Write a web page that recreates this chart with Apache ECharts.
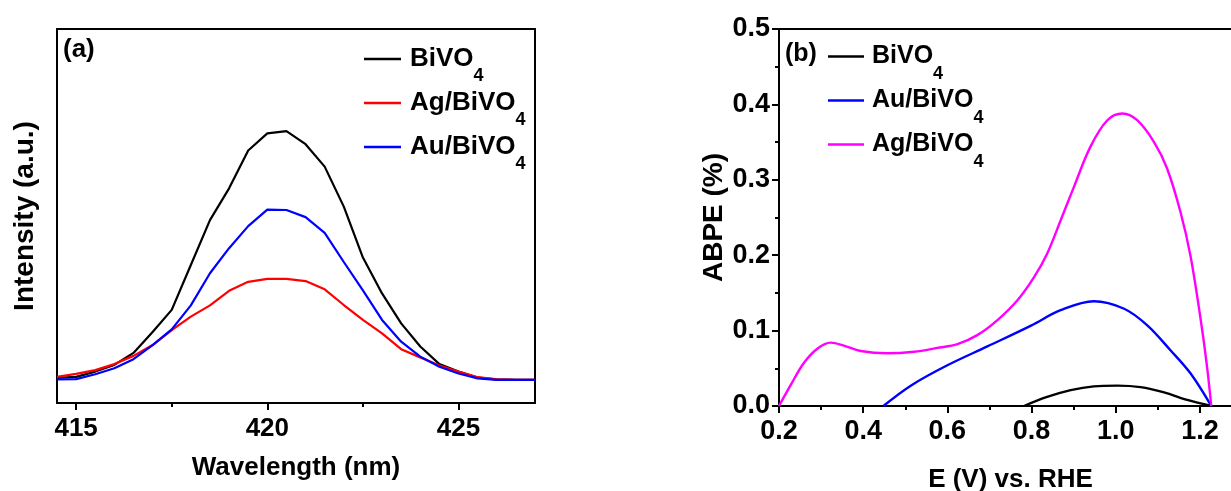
<!DOCTYPE html>
<html>
<head>
<meta charset="utf-8">
<script src="https://cdn.jsdelivr.net/npm/echarts@6/dist/echarts.min.js"></script>
<style>
html,body{margin:0;padding:0;background:#fff;}
#c{width:1231px;height:491px;}
</style>
</head>
<body>
<div id="c"></div>
<script>
// ---- Panel (a): PL spectra ----
const wavelength = [414.5,415,415.5,416,416.5,417,417.5,418,418.5,419,419.5,420,420.5,421,421.5,422,422.5,423,423.5,424,424.5,425,425.5,426,426.5,427];
const pl_bivo = [67,70,84,102,134,190,249,369,489,574,675,721,727,692,632,525,389,293,213,151,104,84,68,63,62,62];
const pl_ag   = [70,78,88,104,126,155,195,231,261,300,324,332,332,326,304,262,222,186,144,122,100,84,69,63,62,62];
const pl_au   = [63,64,77,93,117,155,197,261,347,414,473,517,516,497,455,377,301,222,164,124,97,79,66,62,62,62];
const wl_major = [415,420,425];
const wl_minor = [417.5,422.5];

// ---- Panel (b): ABPE ----
const e_ag    = [0.2,0.228,0.259,0.291,0.323,0.354,0.394,0.457,0.521,0.576,0.624,0.671,0.719,0.766,0.806,0.837,0.869,0.901,0.940,0.980,1.016,1.051,1.091,1.122,1.154,1.178,1.202,1.217,1.227];
const abpe_ag = [0,0.028,0.057,0.076,0.084,0.080,0.073,0.070,0.072,0.077,0.082,0.094,0.114,0.140,0.171,0.202,0.246,0.291,0.344,0.379,0.388,0.379,0.350,0.315,0.257,0.198,0.114,0.052,0];
const e_au    = [0.448,0.513,0.600,0.695,0.800,0.869,0.948,1.020,1.075,1.130,1.178,1.227];
const abpe_au = [0,0.027,0.054,0.079,0.107,0.127,0.139,0.129,0.107,0.074,0.043,0];
const e_bi    = [0.782,0.837,0.893,0.948,1.004,1.059,1.115,1.170,1.227];
const abpe_bi = [0,0.012,0.021,0.026,0.027,0.025,0.018,0.008,0];

const FONT = 'Liberation Sans';
const pair = (xs, ys) => xs.map((x, i) => [x, ys[i]]);

function legendRich(fs, sub){
  return {
    m: {fontSize: fs, fontWeight: 'bold', fontFamily: FONT, color: '#000', lineHeight: fs, padding: [14, 0, 14, 0], verticalAlign: 'middle'},
    s: {fontSize: sub, fontWeight: 'bold', fontFamily: FONT, color: '#000', lineHeight: sub, padding: [35, 0, 0, 0], verticalAlign: 'middle'}
  };
}
const legendFmt = name => '{m|' + name.slice(0, -1) + '}{s|' + name.slice(-1) + '}';

const axisLineStyle = {show: true, lineStyle: {color: '#000', width: 2}};
const labelStyle = {color: '#000', fontFamily: FONT, fontWeight: 'bold', fontSize: 26};
const nameStyle = {color: '#000', fontFamily: FONT, fontWeight: 'bold', fontSize: 26};

const option = {
  animation: false,
  backgroundColor: '#fff',
  grid: [
    {left: 57, width: 478, top: 29, height: 374, outerBoundsMode: 'none', containLabel: false},
    {left: 779, width: 463, top: 29, height: 377, outerBoundsMode: 'none', containLabel: false}
  ],
  xAxis: [
    { // (a) bottom
      gridIndex: 0, type: 'value', min: 414.5, max: 427,
      axisLine: axisLineStyle,
      axisTick: {show: true, inside: false, length: 7, lineStyle: {color: '#000', width: 2}, customValues: wl_major},
      axisLabel: Object.assign({margin: 13, customValues: wl_major}, labelStyle),
      splitLine: {show: false},
      name: 'Wavelength (nm)', nameLocation: 'middle', nameGap: 52, nameTextStyle: nameStyle
    },
    { // (a) minor ticks
      gridIndex: 0, type: 'value', min: 414.5, max: 427, position: 'bottom',
      axisLine: {show: false},
      axisTick: {show: true, inside: false, length: 4, lineStyle: {color: '#000', width: 2}, customValues: wl_minor},
      axisLabel: {show: false}, splitLine: {show: false}
    },
    { // (a) top frame
      gridIndex: 0, type: 'value', min: 414.5, max: 427, position: 'top',
      axisLine: axisLineStyle, axisTick: {show: false}, axisLabel: {show: false}, splitLine: {show: false}
    },
    { // (b) bottom
      gridIndex: 1, type: 'value', min: 0.2, max: 1.3, interval: 0.2,
      axisLine: axisLineStyle,
      axisTick: {show: true, inside: false, length: 7, lineStyle: {color: '#000', width: 2}},
      minorTick: {show: true, splitNumber: 2, length: 4, lineStyle: {color: '#000', width: 2}},
      axisLabel: Object.assign({margin: 12, formatter: v => v.toFixed(1), showMaxLabel: false}, labelStyle, {fontSize: 27}),
      splitLine: {show: false},
      name: 'E (V) vs. RHE', nameLocation: 'middle', nameGap: 61, nameTextStyle: nameStyle
    },
    { // (b) top frame
      gridIndex: 1, type: 'value', min: 0.2, max: 1.3, position: 'top',
      axisLine: axisLineStyle, axisTick: {show: false}, axisLabel: {show: false}, splitLine: {show: false}
    }
  ],
  yAxis: [
    { // (a) left
      gridIndex: 0, type: 'value', min: 0, max: 1000,
      axisLine: axisLineStyle, axisTick: {show: false}, axisLabel: {show: false}, splitLine: {show: false},
      name: 'Intensity (a.u.)', nameLocation: 'middle', nameGap: 18,
      nameTextStyle: Object.assign({}, nameStyle, {fontSize: 28})
    },
    { // (a) right frame
      gridIndex: 0, type: 'value', min: 0, max: 1000, position: 'right',
      axisLine: axisLineStyle, axisTick: {show: false}, axisLabel: {show: false}, splitLine: {show: false}
    },
    { // (b) left
      gridIndex: 1, type: 'value', min: 0, max: 0.5, interval: 0.1,
      axisLine: axisLineStyle,
      axisTick: {show: true, inside: false, length: 7, lineStyle: {color: '#000', width: 2}},
      minorTick: {show: true, splitNumber: 2, length: 4, lineStyle: {color: '#000', width: 2}},
      axisLabel: Object.assign({margin: 9, formatter: v => v.toFixed(1)}, labelStyle, {fontSize: 27}),
      splitLine: {show: false},
      name: 'ABPE (%)', nameLocation: 'middle', nameGap: 49,
      nameTextStyle: Object.assign({}, nameStyle, {fontSize: 28})
    }
  ],
  legend: [
    {
      left: 364, top: 32, padding: 0, orient: 'vertical', itemWidth: 37, itemHeight: 12, itemGap: -10,
      data: ['BiVO4', 'Ag/BiVO4', 'Au/BiVO4'],
      formatter: legendFmt,
      textStyle: {rich: legendRich(26, 18), padding: [0, 0, 0, 4]},
      icon: 'path://M0,5L37,5L37,7.4L0,7.4Z'
    },
    {
      left: 828, top: 30, padding: 0, orient: 'vertical', itemWidth: 36, itemHeight: 12, itemGap: -9,
      data: ['BiVO4 ', 'Au/BiVO4 ', 'Ag/BiVO4 '],
      formatter: name => legendFmt(name.trim()),
      textStyle: {rich: legendRich(25, 18), padding: [0, 0, 0, 3]},
      icon: 'path://M0,5L36,5L36,7.4L0,7.4Z'
    }
  ],
  graphic: [
    {type: 'text', x: 63, y: 50, style: {text: '(a)', fontFamily: FONT, fontWeight: 'bold', fontSize: 26, fill: '#000', verticalAlign: 'middle'}},
    {type: 'text', x: 785, y: 54, style: {text: '(b)', fontFamily: FONT, fontWeight: 'bold', fontSize: 25, fill: '#000', verticalAlign: 'middle'}}
  ],
  series: [
    {name: 'BiVO4', type: 'line', xAxisIndex: 0, yAxisIndex: 0, data: pair(wavelength, pl_bivo), symbol: 'none', lineStyle: {color: '#000000', width: 2.2}, itemStyle: {color: '#000000'}, z: 3},
    {name: 'Ag/BiVO4', type: 'line', xAxisIndex: 0, yAxisIndex: 0, data: pair(wavelength, pl_ag), symbol: 'none', lineStyle: {color: '#ff0000', width: 2.2}, itemStyle: {color: '#ff0000'}, z: 4},
    {name: 'Au/BiVO4', type: 'line', xAxisIndex: 0, yAxisIndex: 0, data: pair(wavelength, pl_au), symbol: 'none', lineStyle: {color: '#0000ff', width: 2.2}, itemStyle: {color: '#0000ff'}, z: 5},
    {name: 'BiVO4 ', type: 'line', xAxisIndex: 3, yAxisIndex: 2, data: pair(e_bi, abpe_bi), symbol: 'none', smooth: 0.35, lineStyle: {color: '#000000', width: 2.4}, itemStyle: {color: '#000000'}},
    {name: 'Au/BiVO4 ', type: 'line', xAxisIndex: 3, yAxisIndex: 2, data: pair(e_au, abpe_au), symbol: 'none', smooth: 0.35, lineStyle: {color: '#0000ff', width: 2.4}, itemStyle: {color: '#0000ff'}},
    {name: 'Ag/BiVO4 ', type: 'line', xAxisIndex: 3, yAxisIndex: 2, data: pair(e_ag, abpe_ag), symbol: 'none', smooth: 0.35, lineStyle: {color: '#ff00ff', width: 2.4}, itemStyle: {color: '#ff00ff'}}
  ]
};

const chart = echarts.init(document.getElementById('c'), null, {renderer: 'canvas'});
chart.setOption(option);
</script>
</body>
</html>
